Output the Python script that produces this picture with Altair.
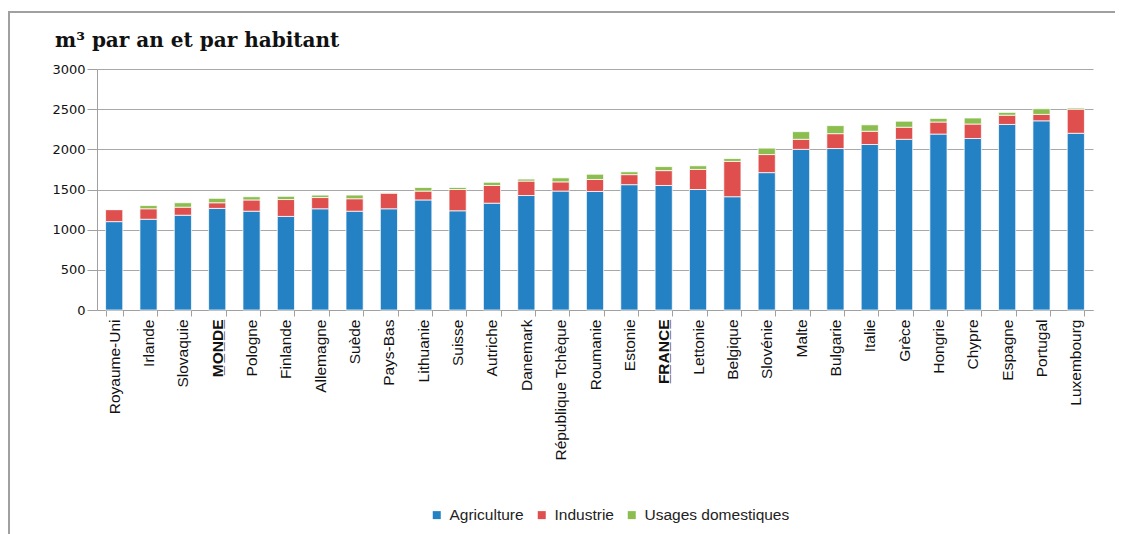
import altair as alt
import pandas as pd

pays = ["Royaume-Uni", "Irlande", "Slovaquie", "MONDE", "Pologne", "Finlande",
        "Allemagne", "Suède", "Pays-Bas", "Lithuanie", "Suisse", "Autriche",
        "Danemark", "République Tchèque", "Roumanie", "Estonie", "FRANCE",
        "Lettonie", "Belgique", "Slovénie", "Malte", "Bulgarie", "Italie",
        "Grèce", "Hongrie", "Chypre", "Espagne", "Portugal", "Luxembourg"]
agriculture = [1100, 1130, 1180, 1265, 1230, 1165, 1260, 1230, 1260, 1370, 1235, 1330,
               1425, 1480, 1475, 1560, 1550, 1500, 1410, 1710, 2000, 2010, 2060,
               2125, 2190, 2135, 2310, 2355, 2200]
industrie = [150, 130, 100, 70, 140, 210, 140, 155, 195, 110, 265, 220,
             180, 115, 150, 125, 185, 250, 440, 225, 125, 185, 165,
             150, 150, 180, 115, 80, 300]
domestiques = [0, 40, 55, 55, 40, 40, 30, 45, 5, 45, 25, 40,
               25, 50, 65, 35, 50, 45, 35, 80, 95, 100, 80,
               75, 45, 75, 35, 70, 15]
usages = ["Agriculture", "Industrie", "Usages domestiques"]
couleurs = ["#2481c4", "#df4f4d", "#8cbd4f"]
y_ticks = [0, 500, 1000, 1500, 2000, 2500, 3000]
titre = "m³ par an et par habitant"

rows = []
for i, p in enumerate(pays):
    for k, (u, v) in enumerate(zip(usages, [agriculture[i], industrie[i], domestiques[i]])):
        rows.append({"pays": p, "usage": u, "valeur": v, "ordre": k})
df = pd.DataFrame(rows)

label_expr = ("datum.value == 'MONDE' ? 'M\u0332O\u0332N\u0332D\u0332E\u0332' : "
              "datum.value == 'FRANCE' ? 'F\u0332R\u0332A\u0332N\u0332C\u0332E\u0332' : datum.value")

bars = alt.Chart(df).mark_bar(stroke="white", strokeWidth=1, strokeOpacity=0.75).encode(
    x=alt.X("pays:N", sort=pays, title=None,
            scale=alt.Scale(paddingInner=0.5, paddingOuter=0.25),
            axis=alt.Axis(labelAngle=-90, labelFont="Liberation Sans", labelFontSize=15.5,
                          labelColor="#111", tickBand="extent", tickSize=6,
                          tickColor="#a0a0a0", domainColor="#a0a0a0", labelPadding=3,
                          labelExpr=label_expr,
                          labelFontWeight=alt.expr("datum.value == 'MONDE' || datum.value == 'FRANCE' ? 'bold' : 'normal'"))),
    y=alt.Y("valeur:Q", stack="zero", title=None,
            scale=alt.Scale(domain=[0, 3000], nice=False),
            axis=alt.Axis(values=y_ticks, format="d", labelFont="DejaVu Sans", labelFontSize=13,
                          labelColor="#111", tickSize=10, tickColor="#a0a0a0",
                          domainColor="#a0a0a0", gridColor="#a8a8a8", gridWidth=1.2,
                          labelPadding=2)),
    color=alt.Color("usage:N", sort=usages,
                    scale=alt.Scale(domain=usages, range=couleurs),
                    legend=alt.Legend(title=None, orient="none", direction="horizontal",
                                      legendX=332, legendY=438, symbolType="square",
                                      symbolSize=64, symbolStrokeWidth=0,
                                      labelFont="Liberation Sans", labelFontSize=15.5,
                                      labelColor="#222", columnPadding=10, labelOffset=5)),
    order=alt.Order("ordre:Q", sort="ascending"),
)

title_mark = alt.Chart(pd.DataFrame({"t": [titre]})).mark_text(
    font="DejaVu Serif", fontSize=20, fontWeight="bold", color="#111",
    align="left", baseline="alphabetic").encode(
    text="t:N", x=alt.value(-42), y=alt.value(-22))

frame_left = alt.Chart(df).mark_rule(color="#a0a0a0", strokeWidth=1.5).encode(
    x=alt.value(-88.5), y=alt.value(-57), y2=alt.value(480))
frame_top = alt.Chart(df).mark_rule(color="#a0a0a0", strokeWidth=1.5).encode(
    x=alt.value(-89), x2=alt.value(1030), y=alt.value(-57))

chart = alt.layer(bars, title_mark, frame_left, frame_top).properties(
    width=996, height=241,
    autosize=alt.AutoSizeParams(type="none"),
    padding={"left": 89, "top": 61, "right": 22, "bottom": 224},
).configure_view(stroke=None)

chart.save("out.html", embed_options={"renderer": "svg", "actions": False})
